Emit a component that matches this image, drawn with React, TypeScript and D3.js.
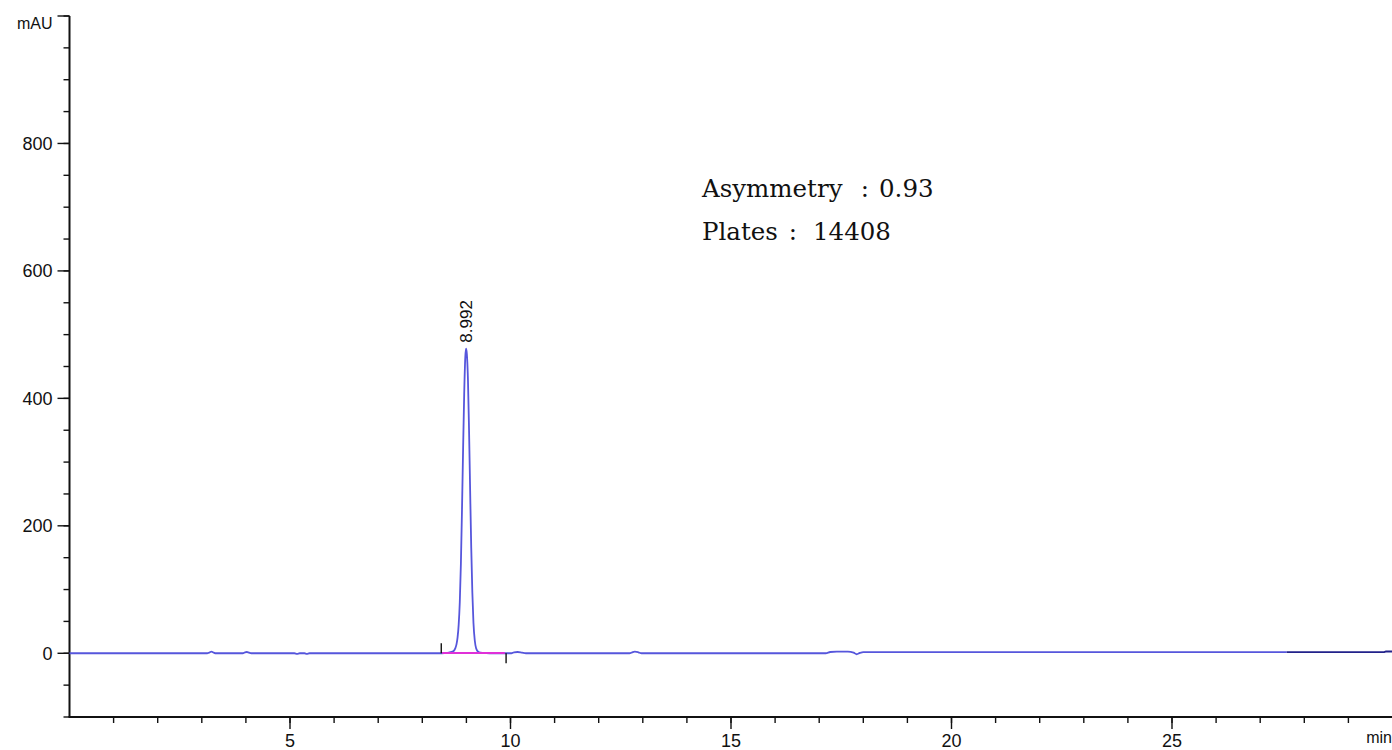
import React, { useEffect, useRef } from "react";
import * as d3 from "d3";

// Chromatogram trace (time in min, absorbance in mAU)
const traceTime = [
  0, 3.12, 3.18, 3.22, 3.27, 3.32, 3.93, 3.98, 4.02, 4.07, 4.12, 5.1, 5.16,
  5.22, 5.33, 5.38, 5.44, 8.4, 8.5, 8.6, 8.7, 8.75, 8.775, 8.8, 8.825, 8.85,
  8.875, 8.9, 8.925, 8.95, 8.975, 8.992, 9.01, 9.035, 9.06, 9.085, 9.11, 9.135,
  9.16, 9.19, 9.22, 9.26, 9.32, 9.45, 9.6, 10.02, 10.08, 10.16, 10.26, 10.35,
  12.7, 12.76, 12.82, 12.9, 12.97, 17.15, 17.25, 17.4, 17.65, 17.78, 17.85,
  17.92, 18.0, 27.6,
];
const traceMAU = [
  0, 0, 1.5, 2.5, 1, 0, 0, 1.5, 2, 1, 0, 0, -1, 0, 0, -1, 0, 0, 0.3, 1, 3, 8,
  14, 25, 45, 80, 140, 225, 320, 407, 465, 478, 470, 430, 350, 255, 165, 95, 48,
  20, 8, 3, 1, 0.3, 0, 0, 1.5, 2, 1, 0, 0, 1.5, 2.5, 1.5, 0, 0, 2, 2.5, 2.5, 1,
  -1.5, 0.5, 1.8, 1.8,
];
// last part of the run, drawn in a darker blue
const tailTime = [27.6, 29.8, 29.85, 30];
const tailMAU = [1.8, 1.8, 2.8, 2.8];

// integration of the main peak
const peakTime = 8.992;
const peakMAU = 478;
const integStart = 8.43;
const integEnd = 9.9;

const xMajorTicks = [5, 10, 15, 20, 25];
const xMinorTicks = d3.range(1, 30);
const yMajorTicks = [0, 200, 400, 600, 800];
const yMinorTicks = d3.range(-100, 1001, 50);

const notes = [
  { label: "Asymmetry", value: "0.93" },
  { label: "Plates", value: "14408" },
];

const width = 1392;
const height = 750;

const App: React.FC = () => {
  const ref = useRef<SVGSVGElement>(null);

  useEffect(() => {
    const svg = d3.select(ref.current);
    svg.selectAll("*").remove();

    const x = d3.scaleLinear().domain([0, 30]).range([69.5, 1392.5]);
    const y = d3.scaleLinear().domain([-100, 1000]).range([717, 16]);
    const axisFont = "'Liberation Sans', Arial, sans-serif";
    const ink = "#111";

    // y axis: minor ticks, then major ticks with labels
    const yAxis = svg.append("g").attr("transform", `translate(${x(0)},0)`);
    yAxis
      .append("line")
      .attr("y1", y(1000))
      .attr("y2", y(-100))
      .attr("stroke", ink)
      .attr("stroke-width", 2);
    yAxis
      .selectAll(".ymin")
      .data(yMinorTicks)
      .enter()
      .append("line")
      .attr("x1", -6)
      .attr("x2", 0)
      .attr("y1", (d) => y(d))
      .attr("y2", (d) => y(d))
      .attr("stroke", ink)
      .attr("stroke-width", 1.4);
    yAxis
      .selectAll(".ymaj")
      .data([...yMajorTicks, 1000])
      .enter()
      .append("line")
      .attr("x1", -12)
      .attr("x2", 0)
      .attr("y1", (d) => y(d))
      .attr("y2", (d) => y(d))
      .attr("stroke", ink)
      .attr("stroke-width", 1.4);
    yAxis
      .selectAll(".ylab")
      .data(yMajorTicks)
      .enter()
      .append("text")
      .attr("x", -17)
      .attr("y", (d) => y(d))
      .attr("dy", "0.35em")
      .attr("text-anchor", "end")
      .style("font-family", axisFont)
      .style("font-size", "18px")
      .attr("fill", ink)
      .text((d) => d);
    yAxis
      .append("text")
      .attr("x", -17)
      .attr("y", y(1000) + 13)
      .attr("text-anchor", "end")
      .style("font-family", axisFont)
      .style("font-size", "16px")
      .attr("fill", ink)
      .text("mAU");

    // x axis
    const xAxis = svg.append("g").attr("transform", `translate(0,${y(-100)})`);
    xAxis
      .append("line")
      .attr("x1", x(0) - 1)
      .attr("x2", width)
      .attr("stroke", ink)
      .attr("stroke-width", 2);
    xAxis
      .selectAll(".xmin")
      .data(xMinorTicks)
      .enter()
      .append("line")
      .attr("x1", (d) => x(d))
      .attr("x2", (d) => x(d))
      .attr("y1", 0)
      .attr("y2", 6)
      .attr("stroke", ink)
      .attr("stroke-width", 1.4);
    xAxis
      .selectAll(".xmaj")
      .data(xMajorTicks)
      .enter()
      .append("line")
      .attr("x1", (d) => x(d))
      .attr("x2", (d) => x(d))
      .attr("y1", 0)
      .attr("y2", 12)
      .attr("stroke", ink)
      .attr("stroke-width", 1.4);
    xAxis
      .selectAll(".xlab")
      .data(xMajorTicks)
      .enter()
      .append("text")
      .attr("x", (d) => x(d))
      .attr("y", 30)
      .attr("text-anchor", "middle")
      .style("font-family", axisFont)
      .style("font-size", "18px")
      .attr("fill", ink)
      .text((d) => d);
    xAxis
      .append("text")
      .attr("x", width)
      .attr("y", 26)
      .attr("text-anchor", "end")
      .style("font-family", axisFont)
      .style("font-size", "16px")
      .attr("fill", ink)
      .text("min");

    const line = d3
      .line<number>()
      .x((d) => x(d))
      .curve(d3.curveMonotoneX);

    // signal
    svg
      .append("path")
      .attr(
        "d",
        line.y((_, i) => y(traceMAU[i]))(traceTime),
      )
      .attr("fill", "none")
      .attr("stroke", "#5656dc")
      .attr("stroke-width", 1.8);
    svg
      .append("path")
      .attr(
        "d",
        line.y((_, i) => y(tailMAU[i]))(tailTime),
      )
      .attr("fill", "none")
      .attr("stroke", "#22228a")
      .attr("stroke-width", 1.8);

    // integration baseline + start / end markers
    svg
      .append("line")
      .attr("x1", x(integStart + 0.02))
      .attr("x2", x(integEnd - 0.03))
      .attr("y1", y(0.4))
      .attr("y2", y(0.4))
      .attr("stroke", "#e030d8")
      .attr("stroke-width", 1.8);
    svg
      .append("line")
      .attr("x1", x(integStart))
      .attr("x2", x(integStart))
      .attr("y1", y(0) - 10)
      .attr("y2", y(0))
      .attr("stroke", ink)
      .attr("stroke-width", 1.4);
    svg
      .append("line")
      .attr("x1", x(integEnd))
      .attr("x2", x(integEnd))
      .attr("y1", y(0))
      .attr("y2", y(0) + 10)
      .attr("stroke", ink)
      .attr("stroke-width", 1.4);

    // retention time label
    svg
      .append("text")
      .attr(
        "transform",
        `translate(${x(peakTime)},${y(peakMAU) - 6}) rotate(-90)`,
      )
      .attr("dy", "0.35em")
      .style("font-family", axisFont)
      .style("font-size", "17px")
      .attr("fill", ink)
      .text(peakTime.toFixed(3));

    // peak statistics
    const noteFont = "'DejaVu Serif', serif";
    notes.forEach((n, i) => {
      const by = 197 + i * 43;
      const g = svg
        .append("g")
        .style("font-family", noteFont)
        .style("font-size", "24.5px")
        .attr("fill", ink);
      g.append("text").attr("x", 702).attr("y", by).text(n.label);
      g.append("text")
        .attr("x", i === 0 ? 865 : 793)
        .attr("y", by)
        .attr("text-anchor", "middle")
        .text(":");
      g.append("text")
        .attr("x", i === 0 ? 879 : 813)
        .attr("y", by)
        .text(n.value);
    });
  }, []);

  return (
    <svg
      ref={ref}
      width={width}
      height={height}
      style={{ position: "absolute", left: 0, top: 0, background: "#fff" }}
    />
  );
};

export default App;
